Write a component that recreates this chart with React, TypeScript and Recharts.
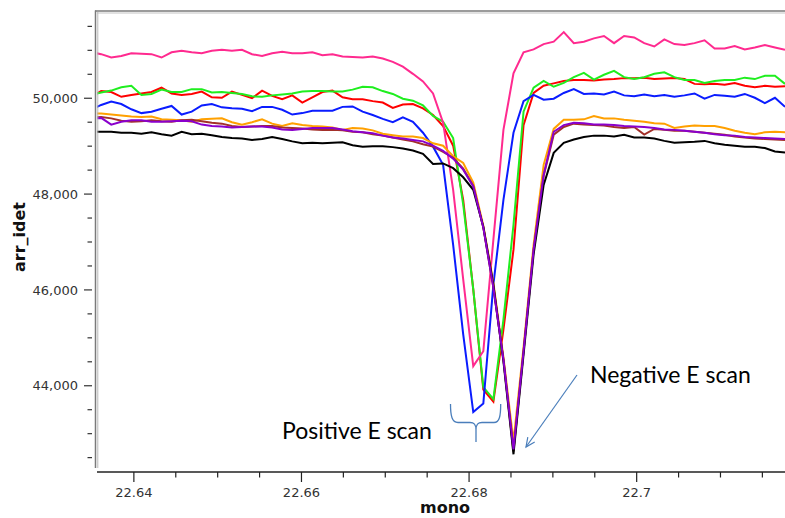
import { LineChart, Line, XAxis, YAxis } from "recharts";

// monochromator positions (shared scan grid)
const mono = [
  22.6349, 22.6361, 22.6373, 22.6385, 22.6397, 22.6409, 22.6421, 22.6433, 22.6445, 22.6457,
  22.6469, 22.6481, 22.6493, 22.6505, 22.6517, 22.6529, 22.6541, 22.6553, 22.6565, 22.6577,
  22.6589, 22.6601, 22.6613, 22.6625, 22.6637, 22.6649, 22.6661, 22.6673, 22.6685, 22.6697,
  22.6709, 22.6721, 22.6733, 22.6745, 22.6757, 22.6769, 22.6781, 22.6793, 22.6805, 22.6817,
  22.6829, 22.6841, 22.6853, 22.6865, 22.6877, 22.6889, 22.6901, 22.6913, 22.6925, 22.6937,
  22.6949, 22.6961, 22.6973, 22.6985, 22.6997, 22.7009, 22.7021, 22.7033, 22.7045, 22.7057,
  22.7069, 22.7081, 22.7093, 22.7105, 22.7117, 22.7129, 22.7141, 22.7153, 22.7165, 22.7177,
];

// positive E scans
const redScan = [
  50030, 50150, 50130, 50030, 50070, 50100, 50130, 50220, 50100, 50070,
  50090, 50140, 50020, 50010, 50140, 50070, 50000, 50160, 50050, 49980,
  50060, 49910, 50020, 50130, 50160, 50020, 49980, 49980, 49940, 49910,
  49800, 49870, 49880, 49790, 49650, 49420, 49010, 47880, 46010, 43920,
  43670, 45170, 46840, 49440, 50110, 50260, 50310, 50360, 50380, 50380,
  50370, 50390, 50400, 50420, 50420, 50430, 50400, 50410, 50420, 50400,
  50300, 50290, 50300, 50280, 50320, 50260, 50230, 50260, 50240, 50250,
];
const greenScan = [
  50070, 50120, 50160, 50230, 50260, 50070, 50090, 50180, 50130, 50130,
  50190, 50190, 50120, 50130, 50110, 50090, 50040, 50030, 50060, 50080,
  50100, 50140, 50150, 50150, 50140, 50140, 50180, 50240, 50230, 50150,
  50090, 49990, 49950, 49850, 49630, 49510, 49170, 47780, 46010, 43970,
  43720, 45380, 47360, 49720, 50220, 50360, 50240, 50320, 50440, 50530,
  50390, 50490, 50570, 50440, 50400, 50440, 50510, 50540, 50440, 50380,
  50380, 50320, 50360, 50380, 50380, 50430, 50400, 50470, 50470, 50300,
];
const pinkScan = [
  50960, 50920, 50850, 50880, 50940, 50930, 50920, 50850, 50960, 50990,
  50960, 50940, 50990, 51010, 50990, 51010, 50920, 50880, 50940, 50970,
  50940, 50940, 50960, 50900, 50920, 50870, 50860, 50850, 50870, 50830,
  50760, 50660, 50510, 50350, 50100, 49490, 48090, 46220, 44410, 44720,
  47050, 49340, 50520, 50960, 51020, 51130, 51180, 51380, 51150, 51180,
  51250, 51300, 51150, 51300, 51270, 51150, 51080, 51230, 51130, 51110,
  51150, 51210, 51040, 51040, 51090, 51020, 51060, 51110, 51060, 51010,
];
const blueScan = [
  49760, 49860, 49930, 49880, 49770, 49690, 49720, 49780, 49840, 49660,
  49720, 49850, 49880, 49810, 49790, 49780, 49730, 49820, 49820, 49760,
  49660, 49690, 49740, 49740, 49740, 49820, 49830, 49720, 49650, 49570,
  49500, 49600, 49510, 49280, 48990, 48610, 46940, 45070, 43450, 43630,
  46110, 47880, 49280, 49940, 50070, 49970, 49990, 50110, 50190, 50090,
  50100, 50080, 50140, 50060, 50040, 50080, 50040, 50070, 50030, 50060,
  50100, 49990, 50070, 50050, 50030, 50090, 50010, 49900, 50010, 49820,
];

// negative E scans
const orangeScan = [
  49690, 49680, 49660, 49640, 49620, 49610, 49620, 49560, 49550, 49540,
  49510, 49560, 49570, 49580, 49500, 49450, 49500, 49560, 49470, 49420,
  49480, 49440, 49420, 49410, 49390, 49340, 49380, 49370, 49330, 49260,
  49230, 49200, 49200, 49170, 49060, 49010, 48790, 48650, 48240, 47340,
  46150, 44590, 42840, 44800, 46940, 48610, 49360, 49550, 49550, 49560,
  49630, 49580, 49580, 49550, 49530, 49510, 49480, 49470, 49380, 49410,
  49430, 49420, 49420, 49380, 49320, 49280, 49250, 49290, 49300, 49290,
];
const brownScan = [
  49600, 49610, 49580, 49530, 49510, 49520, 49540, 49520, 49510, 49540,
  49550, 49520, 49490, 49470, 49420, 49400, 49410, 49420, 49420, 49390,
  49380, 49370, 49350, 49340, 49340, 49330, 49300, 49290, 49250, 49220,
  49180, 49140, 49100, 49040, 48990, 48880, 48760, 48530, 48170, 47300,
  46050, 44550, 42630, 44720, 46840, 48380, 49240, 49400, 49470, 49450,
  49440, 49430, 49400, 49380, 49400, 49240, 49360, 49340, 49320, 49320,
  49300, 49280, 49260, 49240, 49200, 49180, 49160, 49150, 49140, 49130,
];
const blackScan = [
  49300, 49300, 49300, 49280, 49280, 49260, 49290, 49250, 49220, 49300,
  49250, 49260, 49230, 49190, 49170, 49160, 49130, 49150, 49190, 49150,
  49100, 49060, 49070, 49060, 49070, 49080, 49020, 48990, 49000, 49000,
  48980, 48950, 48910, 48840, 48630, 48640, 48540, 48350, 48090, 47320,
  46110, 44510, 42570, 44650, 46740, 48190, 48860, 49070, 49140, 49190,
  49220, 49220, 49200, 49240, 49180, 49180, 49160, 49110, 49070, 49080,
  49090, 49110, 49060, 49030, 49010, 48990, 48990, 48960, 48890, 48870,
];
const purpleScan = [
  49570, 49590, 49450, 49510, 49540, 49540, 49510, 49510, 49520, 49530,
  49520, 49450, 49420, 49410, 49390, 49400, 49410, 49410, 49390, 49350,
  49340, 49360, 49380, 49380, 49380, 49350, 49310, 49290, 49270, 49220,
  49180, 49160, 49130, 49100, 49010, 48900, 48740, 48510, 48160, 47300,
  46050, 44550, 42670, 44720, 46840, 48400, 49300, 49440, 49490, 49480,
  49450, 49450, 49440, 49420, 49410, 49400, 49380, 49350, 49340, 49320,
  49300, 49280, 49250, 49230, 49220, 49190, 49180, 49170, 49160, 49150,
];

const xTicks = [
  22.64, 22.645, 22.65, 22.655, 22.66, 22.665, 22.67, 22.675,
  22.68, 22.685, 22.69, 22.695, 22.7, 22.705, 22.71, 22.715,
];
const xLabels = [22.64, 22.66, 22.68, 22.7];
const yTicks = [
  42500, 43000, 43500, 44000, 44500, 45000, 45500, 46000, 46500, 47000,
  47500, 48000, 48500, 49000, 49500, 50000, 50500, 51000, 51500,
];
const yLabels = [44000, 46000, 48000, 50000];

const series = [
  { key: "red", color: "#ff0000", values: redScan },
  { key: "green", color: "#1fee1f", values: greenScan },
  { key: "pink", color: "#ff2a8f", values: pinkScan },
  { key: "blue", color: "#0a1cff", values: blueScan },
  { key: "orange", color: "#ffa000", values: orangeScan },
  { key: "brown", color: "#a3302a", values: brownScan },
  { key: "black", color: "#000000", values: blackScan },
  { key: "purple", color: "#8a00cc", values: purpleScan },
];

const rows = mono.map((m, i) => {
  const row: Record<string, number> = { mono: m };
  series.forEach((s) => {
    row[s.key] = s.values[i];
  });
  return row;
});

const tickFont = "DejaVu Sans, sans-serif";

function XTick(props: any) {
  const { x, y, payload } = props;
  const major = xLabels.some((v) => Math.abs(v - payload.value) < 1e-9);
  return (
    <g>
      <line x1={x} x2={x} y1={y} y2={y + (major ? 10 : 5.5)} stroke="#222" strokeWidth={1.2} />
      {major && (
        <text x={x} y={y + 25} textAnchor="middle" fontSize={13} fill="#333" fontFamily={tickFont}>
          {String(payload.value)}
        </text>
      )}
    </g>
  );
}

function YTick(props: any) {
  const { x, y, payload } = props;
  const major = yLabels.includes(payload.value);
  return (
    <g>
      <line x1={x - (major ? 13 : 9.5)} x2={x - 5} y1={y} y2={y} stroke="#333" strokeWidth={1.2} />
      {major && (
        <text x={x - 19} y={y} dy={4.7} textAnchor="end" fontSize={13} fill="#333" fontFamily={tickFont}>
          {payload.value.toLocaleString("en-US")}
        </text>
      )}
    </g>
  );
}

export default function App() {
  return (
    <div
      style={{
        position: "absolute",
        left: 0,
        top: 0,
        width: 785,
        height: 518,
        overflow: "hidden",
        background: "#fff",
      }}
    >
      <LineChart width={785} height={518} data={rows} margin={{ top: 12, right: 0, bottom: 0, left: 0 }}>
        <XAxis
          dataKey="mono"
          type="number"
          domain={[22.6356, 22.7177]}
          allowDataOverflow
          ticks={xTicks}
          interval={0}
          tickSize={0}
          tickMargin={0}
          height={46}
          tickLine={false}
          axisLine={{ stroke: "#222", strokeWidth: 1.5 }}
          tick={(p: any) => <XTick {...p} />}
        />
        <YAxis
          type="number"
          domain={[42200, 51800]}
          allowDataOverflow
          ticks={yTicks}
          interval={0}
          width={97}
          tickSize={0}
          tickMargin={0}
          tickLine={false}
          axisLine={false}
          tick={(p: any) => <YTick {...p} />}
        />
        {series.map((s) => (
          <Line
            key={s.key}
            type="linear"
            dataKey={s.key}
            stroke={s.color}
            strokeWidth={2}
            dot={false}
            isAnimationActive={false}
          />
        ))}
      </LineChart>

      <svg
        width={785}
        height={518}
        style={{ position: "absolute", left: 0, top: 0, pointerEvents: "none" }}
      >
        {/* plot frame */}
        <line x1={95} x2={785} y1={11} y2={11} stroke="#7a7a7a" strokeWidth={1.5} />
        <line x1={97} x2={785} y1={13} y2={13} stroke="#c4c4c4" strokeWidth={1} />
        <line x1={95.5} x2={95.5} y1={10.5} y2={468} stroke="#7a7a7a" strokeWidth={1.5} />
        <line x1={97.8} x2={97.8} y1={12} y2={468} stroke="#b8b8b8" strokeWidth={1} />

        {/* axis titles */}
        <text
          transform="translate(25,237) rotate(-90)"
          textAnchor="middle"
          fontSize={16}
          fontWeight="bold"
          fill="#111"
          fontFamily={tickFont}
        >
          arr_idet
        </text>
        <text x={445} y={513} textAnchor="middle" fontSize={16} fontWeight="bold" fill="#111" fontFamily={tickFont}>
          mono
        </text>

        {/* annotations */}
        <path
          d="M450.5 404 C450.5 416 452 422.5 458 422.5 L470 422.5 C474 422.5 476 424 476 430 L476 442 M476 430 C476 424 478 422.5 482 422.5 L494 422.5 C499.5 422.5 500.7 416 500.7 404"
          fill="none"
          stroke="#4a7ebb"
          strokeWidth={1.3}
        />
        <line x1={577} y1={375} x2={526} y2={447} stroke="#4a7ebb" strokeWidth={1.2} />
        <polyline points="534.7,442.1 526,447 527.8,437.2" fill="none" stroke="#4a7ebb" strokeWidth={1.2} />
        <text x={282} y={439} fontSize={23} fill="#000" fontFamily="Lato, sans-serif">
          Positive E scan
        </text>
        <text x={590} y={383} fontSize={23} fill="#000" fontFamily="Lato, sans-serif">
          Negative E scan
        </text>
      </svg>
    </div>
  );
}
